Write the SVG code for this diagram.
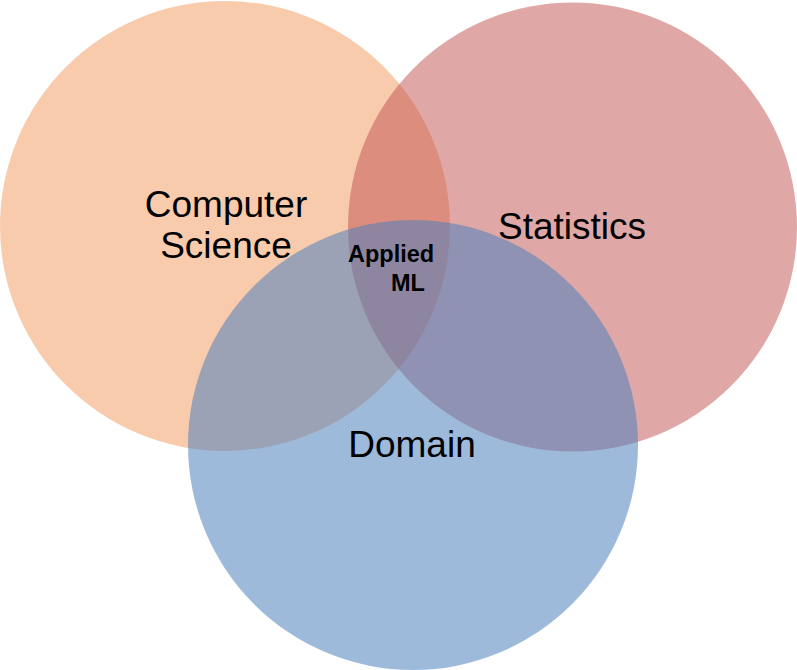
<svg xmlns="http://www.w3.org/2000/svg" width="797" height="670" viewBox="0 0 797 670">
<style>
.lbl{font-family:"Liberation Sans",Arial,sans-serif;font-size:37px;fill:#000;text-anchor:middle}
.core{font-family:"Liberation Sans",Arial,sans-serif;font-size:23.5px;font-weight:bold;fill:#000}
</style>
<rect width="797" height="670" fill="#fff"/>
<g id="cs"><circle cx="225" cy="226" r="225" fill="#ED7D31" fill-opacity="0.4"/></g>
<g id="stats"><circle cx="572.5" cy="227" r="224.5" fill="#C0504D" fill-opacity="0.5"/></g>
<g id="domain"><circle cx="413" cy="445" r="225" fill="#4F81BD" fill-opacity="0.55"/></g>
<g id="labels">
<text class="lbl" x="226" y="217">Computer</text>
<text class="lbl" x="226" y="258">Science</text>
<text class="lbl" x="572" y="239">Statistics</text>
<text class="lbl" x="412" y="457">Domain</text>
<text class="core" x="348" y="262">Applied</text>
<text class="core" x="391" y="291">ML</text>
</g>
</svg>
